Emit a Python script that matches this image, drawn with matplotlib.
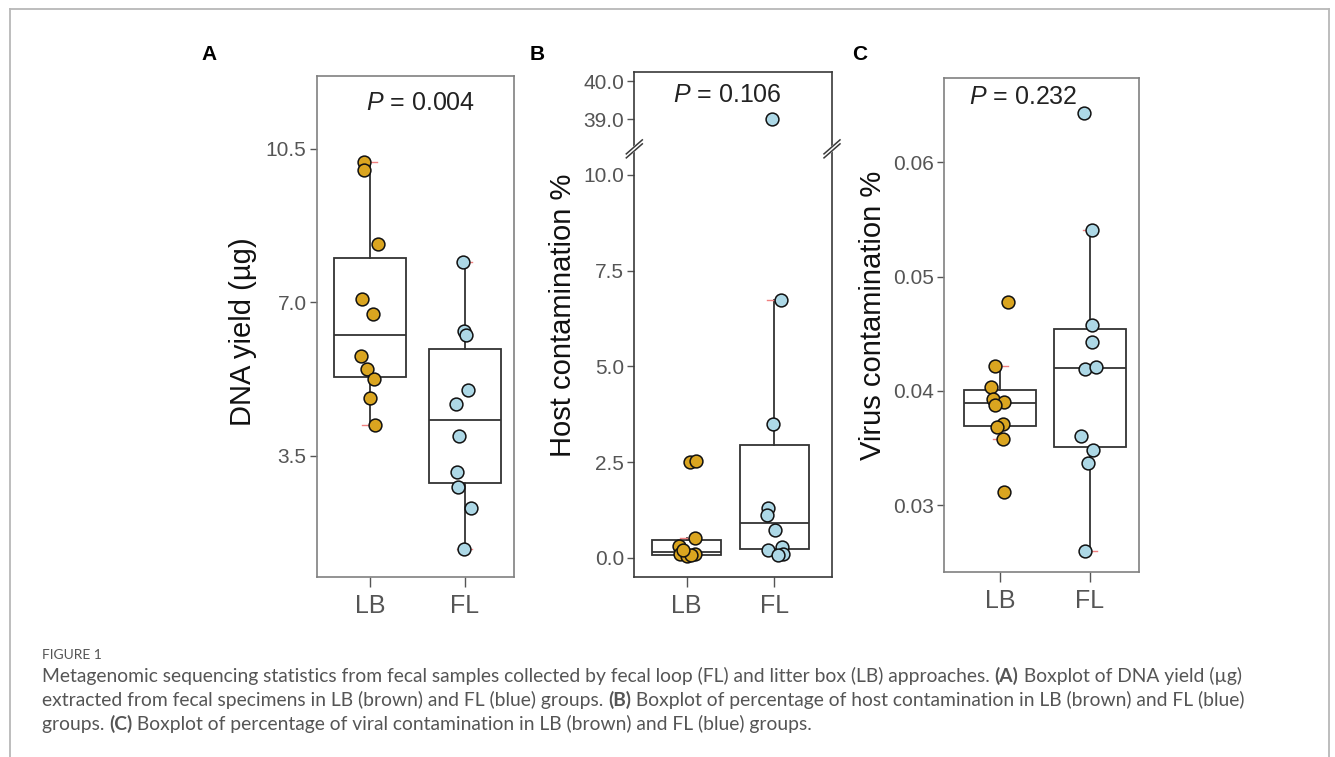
import numpy as np
import matplotlib
matplotlib.use('Agg')
import matplotlib.pyplot as plt
from matplotlib.lines import Line2D

plt.rcParams['font.family'] = ['Liberation Sans', 'DejaVu Sans']
plt.rcParams['mathtext.fontset'] = 'custom'
plt.rcParams['mathtext.rm'] = 'Liberation Sans'
plt.rcParams['mathtext.it'] = 'Liberation Sans:italic'

groups = ['LB', 'FL']

# A - DNA yield (ug)
dna_lb = [10.20, 10.02, 8.33, 7.08, 6.73, 5.78, 5.48, 5.24, 4.82, 4.21]
dna_fl = [7.91, 6.35, 6.25, 5.01, 4.68, 3.95, 3.14, 2.79, 2.30, 1.38]
dna_ticks = [3.5, 7.0, 10.5]
dna_p = '0.004'

# B - host contamination %
host_lb = [2.50, 2.52, 0.51, 0.30, 0.10, 0.06, 0.11, 0.04, 0.08, 0.20]
host_fl = [39.0, 6.72, 3.49, 1.29, 1.11, 0.72, 0.20, 0.29, 0.10, 0.07]
host_ticks = [0.0, 2.5, 5.0, 7.5, 10.0, 39.0, 40.0]
host_p = '0.106'

# C - virus contamination %
virus_lb = [0.0478, 0.0422, 0.0403, 0.0393, 0.0390, 0.0388, 0.0371, 0.0368, 0.0358, 0.0311]
virus_fl = [0.0643, 0.0541, 0.0458, 0.0443, 0.0419, 0.0421, 0.0360, 0.0348, 0.0337, 0.0260]
virus_ticks = [0.03, 0.04, 0.05, 0.06]
virus_p = '0.232'

# horizontal jitter of the dots
jit_a = ([-0.06, -0.065, 0.085, -0.08, 0.03, -0.095, -0.03, 0.047, 0.0, 0.05],
         [-0.02, -0.01, 0.016, 0.037, -0.097, -0.062, -0.083, -0.068, 0.061, -0.01])
jit_b = ([0.04, 0.11, 0.09, -0.09, -0.08, 0.02, 0.10, 0.0, 0.05, -0.04],
         [-0.023, 0.076, -0.011, -0.068, -0.08, 0.011, -0.068, 0.084, 0.10, 0.046])
jit_c = ([0.089, -0.056, -0.107, -0.085, 0.045, -0.059, 0.033, -0.033, 0.033, 0.041],
         [-0.07, 0.026, 0.026, 0.026, -0.056, 0.065, -0.104, 0.03, -0.019, -0.056])

W, H = 1335, 757
fig = plt.figure(figsize=(W / 100, H / 100), dpi=100)


def px(x, y):
    return x / W, 1 - y / H


def make_ax(l, t, r, b):
    return fig.add_axes([l / W, 1 - b / H, (r - l) / W, (b - t) / H])


def panel(ax, lb, fl, jit, width, xlim, ylim, ticks, fmt, frame):
    ax.boxplot([lb, fl], positions=[1, 2], widths=width, showfliers=False,
               patch_artist=True, capwidths=0.16,
               boxprops=dict(facecolor='white', edgecolor='#333333', linewidth=1.3),
               whiskerprops=dict(color='#333333', linewidth=1.3),
               capprops=dict(color='#f08080', linewidth=1.0),
               medianprops=dict(color='#333333', linewidth=1.3))
    ax.scatter(1 + np.array(jit[0]), lb, s=85, c='#daa520', edgecolors='#111111',
               linewidths=1.1, zorder=4, clip_on=False)
    ax.scatter(2 + np.array(jit[1]), fl, s=85, c='#add8e6', edgecolors='#111111',
               linewidths=1.1, zorder=4, clip_on=False)
    ax.set_xlim(*xlim)
    ax.set_ylim(*ylim)
    ax.set_xticks([1, 2])
    ax.set_xticklabels(groups)
    ax.set_yticks(ticks)
    ax.set_yticklabels([fmt.format(t) for t in ticks])
    ax.tick_params(axis='y', labelsize=15, labelcolor='#555555', color='#555555',
                   length=4.8, width=1, pad=2.5)
    ax.tick_params(axis='x', labelsize=18, labelcolor='#555555', color='#555555',
                   length=7.2, width=1, pad=5)
    ax.minorticks_off()
    for sp in ax.spines.values():
        sp.set_color(frame)
        sp.set_linewidth(1.2)


# panel A
axA = make_ax(316.7, 75.7, 514.3, 576.7)
panel(axA, dna_lb, dna_fl, jit_a, 0.75, (0.44, 2.52), (0.74, 12.17),
      dna_ticks, '{:.1f}', '#808080')

# panel B with a broken y axis
lo, hi = 10.68, 38.23


def fwd(v):
    v = np.asarray(v, float)
    return np.where(v <= lo, v, np.where(v >= hi, v - (hi - lo), lo))


def inv(u):
    u = np.asarray(u, float)
    return np.where(u <= lo, u, u + (hi - lo))


axB = make_ax(634.3, 72.3, 832.0, 577.3)
axB.set_yscale('function', functions=(fwd, inv))
panel(axB, host_lb, host_fl, jit_b, 0.79, (0.403, 2.658), (-0.51, 40.23),
      host_ticks, '{:.1f}', '#3a3a3a')

yb = float((fwd(lo) - fwd(-0.51)) / (fwd(40.23) - fwd(-0.51)))
dx, dy, gap = 8 / 197.7, 7 / 505, 4 / 505
for xs in (0, 1):
    axB.add_line(Line2D([xs - dx * 0.6, xs + dx * 0.6], [yb - dy * 0.6, yb + dy * 0.6],
                        transform=axB.transAxes, color='white', lw=3.5,
                        clip_on=False, zorder=5))
    for off in (-gap / 2, gap / 2):
        axB.add_line(Line2D([xs - dx, xs + dx], [yb + off - dy, yb + off + dy],
                            transform=axB.transAxes, color='#3a3a3a', lw=1.1,
                            clip_on=False, zorder=6))

# panel C
axC = make_ax(944, 77.7, 1139, 572.3)
panel(axC, virus_lb, virus_fl, jit_c, 0.80, (0.372, 2.546), (0.02411, 0.06741),
      virus_ticks, '{:.2f}', '#808080')

# y labels, p values, panel letters
for (x, y), txt in zip([(243, 332), (563, 315), (873, 315)],
                       ['DNA yield (µg)', 'Host contamination %', 'Virus contamination %']):
    fig.text(*px(x, y), txt, rotation=90, ha='center', va='center', fontsize=21, color='#111111')

for (x, y), p in zip([(420.4, 103), (727.3, 95), (1023, 96.7)], [dna_p, host_p, virus_p]):
    fig.text(*px(x, y), '$P$ = ' + p, ha='center', va='center', fontsize=18, color='#222222')

for (x, y), lab in zip([(209, 55), (537, 55), (860, 55)], ['A', 'B', 'C']):
    fig.text(*px(x, y), lab, ha='center', va='center', fontsize=15, fontweight='bold', color='black')

# outer frame of the figure page
for xs, ys in [([9.5, 9.5], [757, 8.5]), ([9.5, 1329], [8.5, 8.5]), ([1329, 1329], [8.5, 757])]:
    fig.add_artist(Line2D([x / W for x in xs], [1 - y / H for y in ys],
                          transform=fig.transFigure, color='#b8b8b8', lw=1.3))

# caption
cap_font = ['Lato', 'DejaVu Sans']
fig.text(*px(42, 655), 'FIGURE 1', ha='left', va='center', fontsize=10,
         color='#555555', family=cap_font)
caption = [
    [('Metagenomic sequencing statistics from fecal samples collected by fecal loop (FL) and '
      'litter box (LB) approaches. ', False), ('(A)', True), (' Boxplot of DNA yield (µg)', False)],
    [('extracted from fecal specimens in LB (brown) and FL (blue) groups. ', False), ('(B)', True),
     (' Boxplot of percentage of host contamination in LB (brown) and FL (blue)', False)],
    [('groups. ', False), ('(C)', True),
     (' Boxplot of percentage of viral contamination in LB (brown) and FL (blue) groups.', False)],
]
renderer = fig.canvas.get_renderer()
for i, line in enumerate(caption):
    x = 42
    y = 682 + 24 * i
    for seg, bold in line:
        t = fig.text(*px(x, y), seg, ha='left', va='baseline', fontsize=13.9,
                     color='#555555', family=cap_font,
                     fontweight='bold' if bold else 'normal')
        x += t.get_window_extent(renderer).width

fig.savefig('out.png', dpi=100, facecolor='white')
